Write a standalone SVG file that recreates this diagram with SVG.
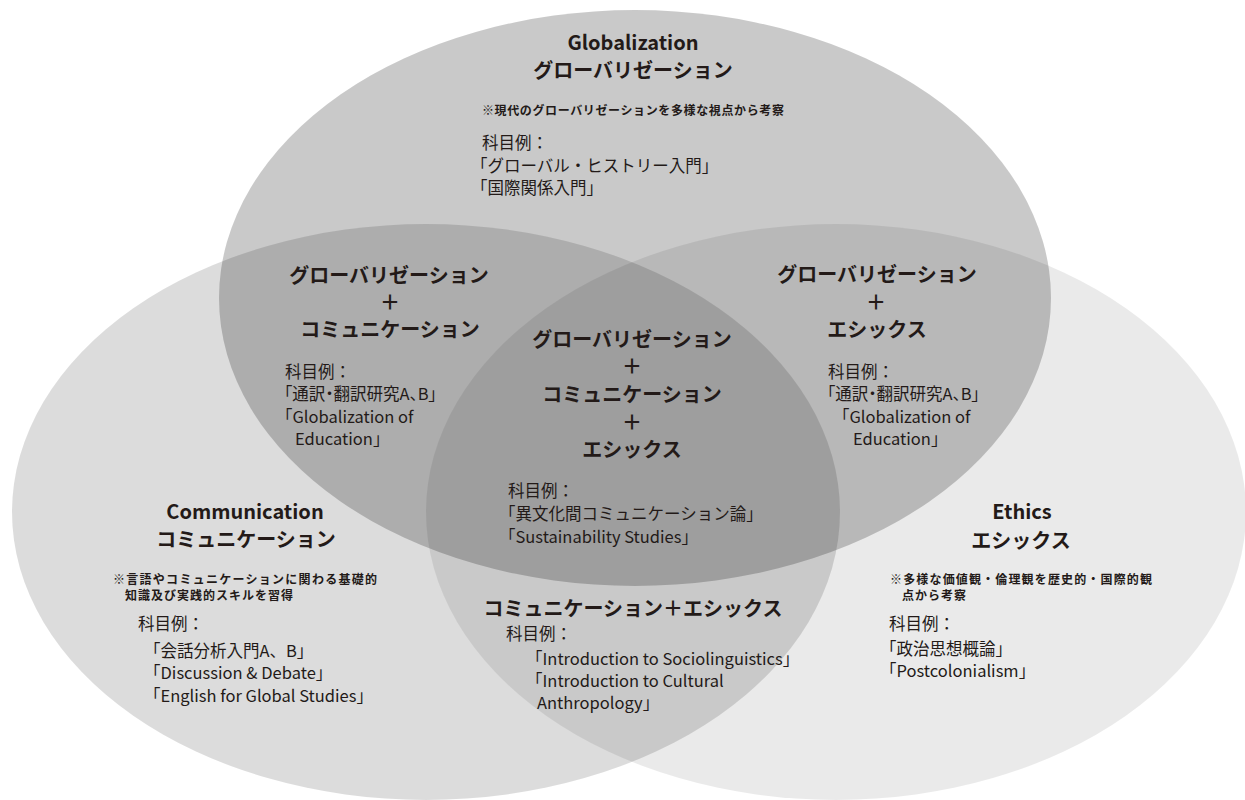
<svg xmlns="http://www.w3.org/2000/svg" width="1245" height="800" viewBox="0 0 1245 800">
  <style>
    text { font-family: "Noto Sans CJK JP", "Noto Sans", sans-serif; fill: #231a18; }
    .h { font-size: 20px; font-weight: 700; text-anchor: middle; }
    .hl { font-size: 20px; font-weight: 700; text-anchor: middle; }
    .b { font-size: 16.5px; font-weight: 400; }
    .p { font-feature-settings: "palt"; }
    .n { font-size: 12px; font-weight: 700; }
  </style>
  <rect width="1245" height="800" fill="#ffffff"/>
  <g id="circles">
    <ellipse id="circle-globalization" cx="635" cy="298" rx="416" ry="288" fill="#000" fill-opacity="0.212"/>
    <ellipse id="circle-communication" cx="426" cy="512" rx="414" ry="288" fill="#000" fill-opacity="0.137"/>
    <ellipse id="circle-ethics" cx="836" cy="512" rx="410" ry="288" fill="#000" fill-opacity="0.082"/>
  </g>
  <g id="connectors"/>
  <g id="globalization">
    <text class="hl" x="633" y="50">Globalization</text>
    <text class="h" x="633" y="78">グローバリゼーション</text>
    <text class="n" x="482" y="115" textLength="302" lengthAdjust="spacing">※現代のグローバリゼーションを多様な視点から考察</text>
    <text class="b" x="482" y="149">科目例：</text>
    <text class="b" x="471" y="172">「グローバル・ヒストリー入門」</text>
    <text class="b" x="471" y="194">「国際関係入門」</text>
  </g>
  <g id="glob-comm">
    <text class="h" x="389" y="283">グローバリゼーション</text>
    <text class="h" x="390" y="310">＋</text>
    <text class="h" x="390" y="337">コミュニケーション</text>
    <text class="b" x="285" y="378">科目例：</text>
    <text class="b p" x="284" y="400">「通訳・翻訳研究A、B」</text>
    <text class="b" x="276" y="423">「Globalization of</text>
    <text class="b" x="295" y="445">Education」</text>
  </g>
  <g id="glob-ethics">
    <text class="h" x="877" y="282">グローバリゼーション</text>
    <text class="h" x="876" y="310">＋</text>
    <text class="h" x="877" y="337">エシックス</text>
    <text class="b" x="828" y="378">科目例：</text>
    <text class="b p" x="827" y="400">「通訳・翻訳研究A、B」</text>
    <text class="b" x="833" y="423">「Globalization of</text>
    <text class="b" x="853" y="445">Education」</text>
  </g>
  <g id="all-three">
    <text class="h" x="632" y="347">グローバリゼーション</text>
    <text class="h" x="632" y="374">＋</text>
    <text class="h" x="632" y="402">コミュニケーション</text>
    <text class="h" x="632" y="430">＋</text>
    <text class="h" x="632" y="457">エシックス</text>
    <text class="b" x="508" y="497">科目例：</text>
    <text class="b" x="499" y="520">「異文化間コミュニケーション論」</text>
    <text class="b" x="499" y="543">「Sustainability Studies」</text>
  </g>
  <g id="communication">
    <text class="hl" x="245" y="519">Communication</text>
    <text class="h" x="246" y="547">コミュニケーション</text>
    <text class="n" x="113" y="584" textLength="264" lengthAdjust="spacing">※言語やコミュニケーションに関わる基礎的</text>
    <text class="n" x="125" y="600" textLength="168" lengthAdjust="spacing">知識及び実践的スキルを習得</text>
    <text class="b" x="138" y="630">科目例：</text>
    <text class="b" x="144" y="657">「会話分析入門A、B」</text>
    <text class="b" x="144" y="679">「Discussion &amp; Debate」</text>
    <text class="b" x="144" y="702">「English for Global Studies」</text>
  </g>
  <g id="comm-ethics">
    <text class="h" x="633" y="616">コミュニケーション＋エシックス</text>
    <text class="b" x="506" y="640">科目例：</text>
    <text class="b" x="526" y="665">「Introduction to Sociolinguistics」</text>
    <text class="b" x="526" y="687">「Introduction to Cultural</text>
    <text class="b" x="537" y="709">Anthropology」</text>
  </g>
  <g id="ethics">
    <text class="hl" x="1022" y="519">Ethics</text>
    <text class="h" x="1021" y="548">エシックス</text>
    <text class="n" x="890" y="584" textLength="262" lengthAdjust="spacing">※多様な価値観・倫理観を歴史的・国際的観</text>
    <text class="n" x="902" y="600" textLength="64" lengthAdjust="spacing">点から考察</text>
    <text class="b" x="889" y="630">科目例：</text>
    <text class="b" x="880" y="655">「政治思想概論」</text>
    <text class="b" x="880" y="677">「Postcolonialism」</text>
  </g>
</svg>
